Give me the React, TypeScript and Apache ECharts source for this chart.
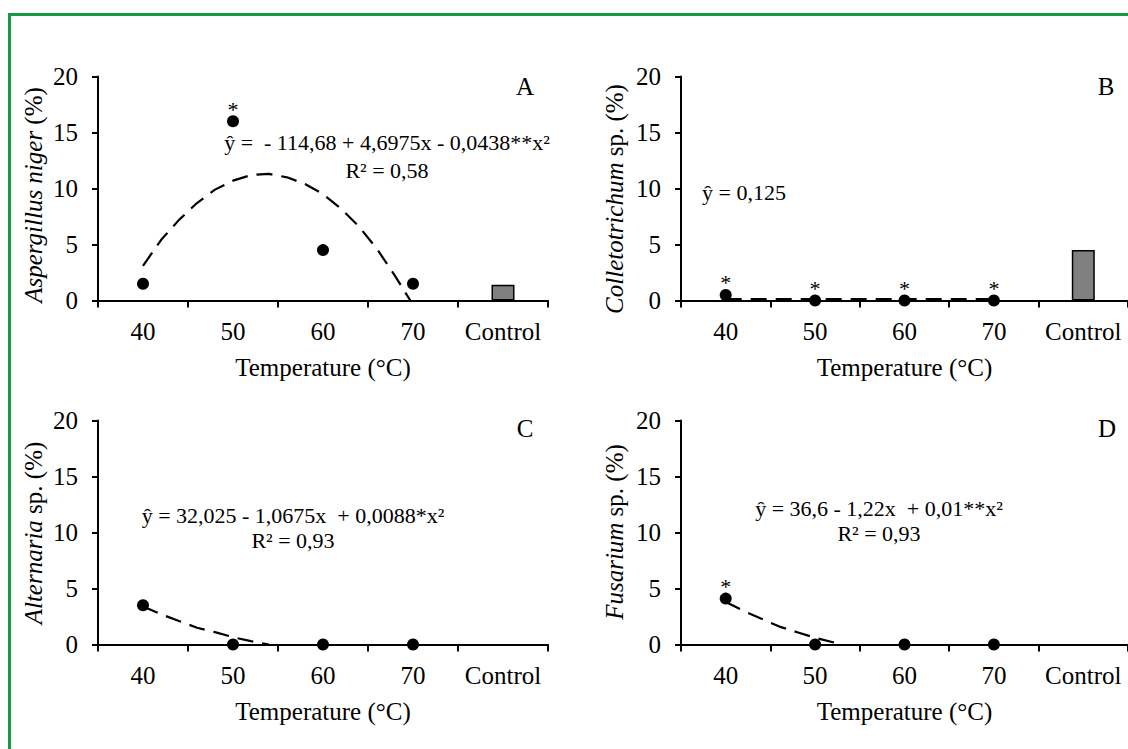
import React, { useEffect, useRef } from 'react';
import * as echarts from 'echarts';

// ---------- data ----------
const categories = ['40', '50', '60', '70', 'Control'];
const xAxisTitle = 'Temperature (°C)';

// Panel A – Aspergillus niger
const aPoints = [1.5, 16.0, 4.5, 1.5];
const aStars = [false, true, false, false];
const aControl = 1.4;
const aCurveX = [40, 42, 44, 46, 48, 50, 52, 54, 56, 58, 60, 62, 64, 66, 68, 69.7];
const aCurveY = [3.1, 5.4, 7.2, 8.7, 9.9, 10.7, 11.2, 11.3, 11.0, 10.4, 9.5, 8.2, 6.6, 4.6, 2.2, 0];
const aEquation = ['ŷ =  - 114,68 + 4,6975x - 0,0438**x²', 'R² = 0,58'];

// Panel B – Colletotrichum sp.
const bPoints = [0.5, 0, 0, 0];
const bStars = [true, true, true, true];
const bControl = 4.5;
const bCurveX = [40, 70];
const bCurveY = [0.125, 0.125];
const bEquation = ['ŷ = 0,125'];

// Panel C – Alternaria sp.
const cPoints = [3.5, 0, 0, 0];
const cStars = [false, false, false, false];
const cControl = null;
const cCurveX = [40, 42, 44, 46, 48, 50, 52, 54];
const cCurveY = [3.4, 2.7, 2.1, 1.5, 1.1, 0.65, 0.3, 0];
const cEquation = ['ŷ = 32,025 - 1,0675x  + 0,0088*x²', 'R² = 0,93'];

// Panel D – Fusarium sp.
const dPoints = [4.1, 0, 0, 0];
const dStars = [true, false, false, false];
const dControl = null;
const dCurveX = [40, 42, 44, 46, 48, 50, 52, 53];
const dCurveY = [3.8, 3.0, 2.3, 1.6, 1.1, 0.6, 0.2, 0];
const dEquation = ['ŷ = 36,6 - 1,22x  + 0,01**x²', 'R² = 0,93'];

const panelLetters = ['A', 'B', 'C', 'D'];
const yNamesItalic = ['Aspergillus niger', 'Colletotrichum', 'Alternaria', 'Fusarium'];
const yNamesPlain = [' (%)', ' sp. (%)', ' sp. (%)', ' sp. (%)'];

// ---------- layout ----------
const FONT = 'Liberation Serif';
const layout = [
  { left: 98, top: 76.5, nameX: 33, nameY: 195, letterX: 525, letterY: 86, eqX: 387, eqY: [142, 170] },
  { left: 681, top: 76.5, nameX: 614, nameY: 199, letterX: 1106, letterY: 86, eqX: 744, eqY: [192] },
  { left: 98, top: 420.5, nameX: 33, nameY: 533, letterX: 525, letterY: 428, eqX: 293, eqY: [515, 540] },
  { left: 681, top: 420.5, nameX: 614, nameY: 532, letterX: 1107, letterY: 428, eqX: 879, eqY: [508, 533] },
];

const panelData = [
  { points: aPoints, stars: aStars, control: aControl, cx: aCurveX, cy: aCurveY, eq: aEquation },
  { points: bPoints, stars: bStars, control: bControl, cx: bCurveX, cy: bCurveY, eq: bEquation },
  { points: cPoints, stars: cStars, control: cControl, cx: cCurveX, cy: cCurveY, eq: cEquation },
  { points: dPoints, stars: dStars, control: dControl, cx: dCurveX, cy: dCurveY, eq: dEquation },
];

function buildOption() {
  const grid: any[] = [];
  const xAxis: any[] = [];
  const yAxis: any[] = [];
  const series: any[] = [];
  const graphic: any[] = [];

  graphic.push({
    type: 'rect',
    shape: { x: 9.5, y: 14.5, width: 1300, height: 900 },
    style: { fill: 'none', stroke: '#139a43', lineWidth: 3 },
    z: 100,
  });

  layout.forEach((L, i) => {
    const d = panelData[i];
    grid.push({ left: L.left, top: L.top, width: 450, height: 224, containLabel: false });
    xAxis.push({
      type: 'category',
      gridIndex: i,
      data: categories,
      boundaryGap: true,
      axisLine: { show: true, lineStyle: { color: '#000', width: 2 } },
      axisTick: { show: true, length: 7, interval: 0, lineStyle: { color: '#000', width: 2 } },
      axisLabel: { color: '#000', fontSize: 25, fontFamily: FONT, margin: 18, interval: 0 },
      name: xAxisTitle,
      nameLocation: 'middle',
      nameGap: 54,
      nameTextStyle: { color: '#000', fontSize: 25, fontFamily: FONT },
      splitLine: { show: false },
    });
    xAxis.push({
      type: 'value',
      gridIndex: i,
      min: 35,
      max: 85,
      show: false,
      splitLine: { show: false },
    });
    yAxis.push({
      type: 'value',
      gridIndex: i,
      min: 0,
      max: 20,
      interval: 5,
      axisLine: { show: true, lineStyle: { color: '#000', width: 2 } },
      axisTick: { show: true, length: 6, lineStyle: { color: '#000', width: 2 } },
      axisLabel: { color: '#000', fontSize: 25, fontFamily: FONT, margin: 20 },
      splitLine: { show: false },
    });

    // regression curve
    series.push({
      type: 'line',
      xAxisIndex: 2 * i + 1,
      yAxisIndex: i,
      data: d.cx.map((x, k) => [x, d.cy[k]]),
      symbol: 'none',
      smooth: false,
      lineStyle: { color: '#000', width: 2.2, type: [16, 9] },
      z: 2,
    });

    // control bar
    if (d.control !== null) {
      series.push({
        type: 'bar',
        xAxisIndex: 2 * i,
        yAxisIndex: i,
        data: [...d.points.map(() => '-'), d.control],
        barWidth: 23,
        itemStyle: { color: '#808080', borderColor: '#000', borderWidth: 1.5, opacity: 1 },
        z: 3,
      });
    }

    // observed points
    series.push({
      type: 'scatter',
      xAxisIndex: 2 * i,
      yAxisIndex: i,
      symbol: 'circle',
      symbolSize: 12,
      itemStyle: { color: '#000', opacity: 1 },
      data: [
        ...d.points.map((v, k) =>
          d.stars[k] ? { value: v, label: { show: true } } : { value: v }
        ),
        '-',
      ],
      label: {
        show: false,
        formatter: '*',
        position: 'top',
        distance: 0,
        offset: [0, 5],
        color: '#000',
        fontSize: 22,
        fontFamily: FONT,
      },
      z: 4,
    });

    // y axis name
    graphic.push({
      type: 'text',
      x: L.nameX,
      y: L.nameY,
      rotation: Math.PI / 2,
      style: {
        text: `{i|${yNamesItalic[i]}}{n|${yNamesPlain[i]}}`,
        rich: {
          i: { fontStyle: 'italic', fontSize: 25, fontFamily: FONT, fill: '#000' },
          n: { fontSize: 25, fontFamily: FONT, fill: '#000' },
        },
        fontSize: 25,
        fontFamily: FONT,
        fill: '#000',
        align: 'center',
        verticalAlign: 'middle',
      },
    });

    // panel letter
    graphic.push({
      type: 'text',
      x: L.letterX,
      y: L.letterY,
      style: {
        text: panelLetters[i],
        fontSize: 25,
        fontFamily: FONT,
        fill: '#000',
        align: 'center',
        verticalAlign: 'middle',
      },
    });

    // equation lines
    d.eq.forEach((line, k) => {
      graphic.push({
        type: 'text',
        x: L.eqX,
        y: L.eqY[k],
        style: {
          text: line,
          fontSize: 22,
          fontFamily: FONT,
          fill: '#000',
          align: 'center',
          verticalAlign: 'middle',
        },
      });
    });
  });

  return {
    animation: false,
    backgroundColor: '#ffffff',
    textStyle: { fontFamily: FONT },
    grid,
    xAxis,
    yAxis,
    series,
    graphic,
  };
}

export default function App() {
  const ref = useRef<HTMLDivElement>(null);
  useEffect(() => {
    if (!ref.current) return;
    const chart = echarts.init(ref.current, undefined, { renderer: 'svg' });
    chart.setOption(buildOption() as any);
    return () => {
      chart.dispose();
    };
  }, []);
  return (
    <div
      ref={ref}
      style={{ position: 'absolute', left: 0, top: 0, width: 1128, height: 749, background: '#fff' }}
    />
  );
}
